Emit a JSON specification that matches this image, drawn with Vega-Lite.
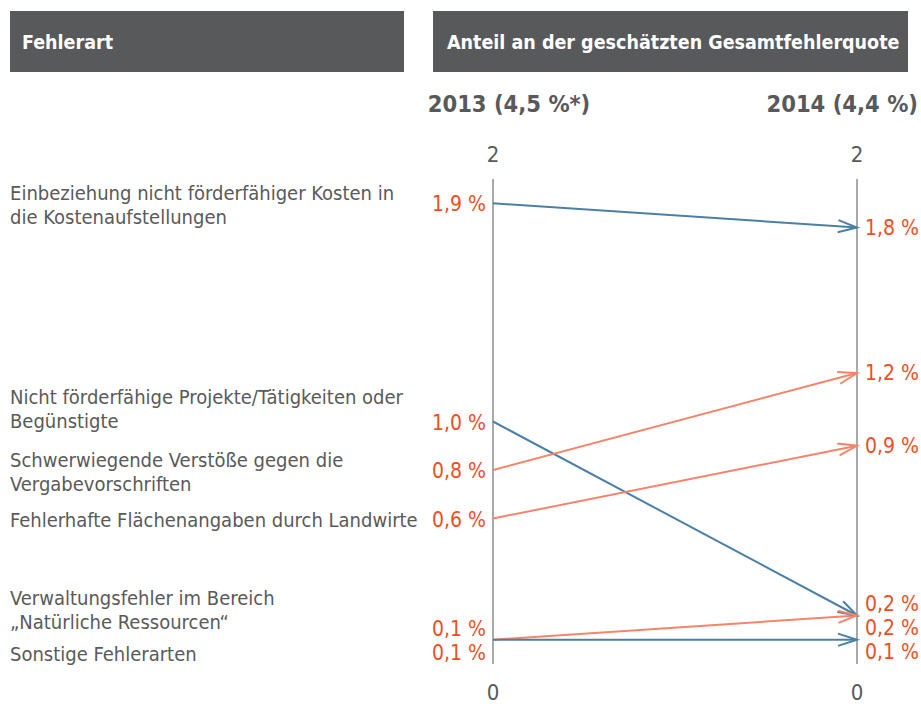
{
  "$schema": "https://vega.github.io/schema/vega-lite/v6.json",
  "width": 921,
  "height": 704,
  "autosize": "none",
  "padding": 0,
  "background": "#ffffff",
  "config": {
    "view": {"stroke": null},
    "text": {"font": "DejaVu Sans Condensed, Liberation Sans Narrow, sans-serif"}
  },
  "datasets": {
    "fehler": [
      {"Fehlerart": "Einbeziehung nicht förderfähiger Kosten in\ndie Kostenaufstellungen", "Anteil2013": 1.9, "Anteil2014": 1.8},
      {"Fehlerart": "Nicht förderfähige Projekte/Tätigkeiten oder\nBegünstigte", "Anteil2013": 1.0, "Anteil2014": 0.2},
      {"Fehlerart": "Schwerwiegende Verstöße gegen die\nVergabevorschriften", "Anteil2013": 0.8, "Anteil2014": 1.2},
      {"Fehlerart": "Fehlerhafte Flächenangaben durch Landwirte", "Anteil2013": 0.6, "Anteil2014": 0.9},
      {"Fehlerart": "Verwaltungsfehler im Bereich\n„Natürliche Ressourcen“", "Anteil2013": 0.1, "Anteil2014": 0.2},
      {"Fehlerart": "Sonstige Fehlerarten", "Anteil2013": 0.1, "Anteil2014": 0.1}
    ],
    "jahre": [
      {"Jahr": 2013, "Titel": "2013 (4,5 %*)"},
      {"Jahr": 2014, "Titel": "2014 (4,4 %)"}
    ]
  },
  "layer": [
    {
      "data": {"name": "jahre"},
      "mark": {"type": "rule", "color": "#8c8c8c", "strokeWidth": 1.5},
      "encoding": {
        "x": {"field": "Jahr", "type": "quantitative", "axis": null, "scale": {"domain": [2013, 2014], "range": [493, 857], "zero": false, "nice": false}},
        "y": {"datum": 0, "type": "quantitative", "axis": null, "scale": {"domain": [0, 2], "range": [664, 179], "zero": false, "nice": false}},
        "y2": {"datum": 2}
      }
    },
    {
      "data": {"values": [{"Kopf": "Fehlerart"}]},
      "layer": [
        {
          "mark": {"type": "rect", "color": "#58595b"},
          "encoding": {
            "x": {"datum": 2011.6731, "type": "quantitative"},
            "x2": {"datum": 2012.7555},
            "y": {"datum": 2.6928, "type": "quantitative"},
            "y2": {"datum": 2.4412}
          }
        },
        {
          "mark": {"type": "text", "color": "#ffffff", "fontWeight": "bold", "fontSize": 19.5, "align": "left", "baseline": "alphabetic"},
          "encoding": {
            "x": {"datum": 2011.706, "type": "quantitative"},
            "y": {"datum": 2.536, "type": "quantitative"},
            "text": {"field": "Kopf"}
          }
        }
      ]
    },
    {
      "data": {"values": [{"Kopf": "Anteil an der geschätzten Gesamtfehlerquote"}]},
      "layer": [
        {
          "mark": {"type": "rect", "color": "#58595b"},
          "encoding": {
            "x": {"datum": 2012.8352, "type": "quantitative"},
            "x2": {"datum": 2014.1401},
            "y": {"datum": 2.6928, "type": "quantitative"},
            "y2": {"datum": 2.4412}
          }
        },
        {
          "mark": {"type": "text", "color": "#ffffff", "fontWeight": "bold", "fontSize": 19.5, "align": "left", "baseline": "alphabetic"},
          "encoding": {
            "x": {"datum": 2012.8736, "type": "quantitative"},
            "y": {"datum": 2.536, "type": "quantitative"},
            "text": {"field": "Kopf"}
          }
        }
      ]
    },
    {
      "data": {"name": "jahre"},
      "layer": [
        {
          "transform": [{"filter": "datum.Jahr == 2013"}],
          "mark": {"type": "text", "fontWeight": "bold", "fontSize": 23.5, "color": "#58595b", "align": "center", "baseline": "alphabetic", "dx": 16, "dy": -67},
          "encoding": {
            "x": {"field": "Jahr", "type": "quantitative"},
            "y": {"datum": 2, "type": "quantitative"},
            "text": {"field": "Titel"}
          }
        },
        {
          "transform": [{"filter": "datum.Jahr == 2014"}],
          "mark": {"type": "text", "fontWeight": "bold", "fontSize": 23.5, "color": "#58595b", "align": "right", "baseline": "alphabetic", "dx": 61, "dy": -67},
          "encoding": {
            "x": {"field": "Jahr", "type": "quantitative"},
            "y": {"datum": 2, "type": "quantitative"},
            "text": {"field": "Titel"}
          }
        },
        {
          "mark": {"type": "text", "fontSize": 22, "color": "#58595b", "align": "center", "baseline": "alphabetic", "dy": -17},
          "encoding": {
            "x": {"field": "Jahr", "type": "quantitative"},
            "y": {"datum": 2, "type": "quantitative"},
            "text": {"datum": 2}
          }
        },
        {
          "mark": {"type": "text", "fontSize": 22, "color": "#58595b", "align": "center", "baseline": "alphabetic", "dy": 36},
          "encoding": {
            "x": {"field": "Jahr", "type": "quantitative"},
            "y": {"datum": 0, "type": "quantitative"},
            "text": {"datum": 0}
          }
        }
      ]
    },
    {
      "data": {"name": "fehler"},
      "transform": [
        {"calculate": "datum.Anteil2014 > datum.Anteil2013 ? 'Anstieg' : 'Rückgang'", "as": "Entwicklung"},
        {"calculate": "atan((datum.Anteil2013 - datum.Anteil2014) * 242.5 / 364) * 180 / PI", "as": "Winkel"},
        {"calculate": "replace(format(datum.Anteil2013, '.1f'), '.', ',') + ' %'", "as": "Text2013"},
        {"calculate": "replace(format(datum.Anteil2014, '.1f'), '.', ',') + ' %'", "as": "Text2014"}
      ],
      "layer": [
        {
          "mark": {"type": "rule", "strokeWidth": 2},
          "encoding": {
            "x": {"datum": 2013, "type": "quantitative"},
            "x2": {"datum": 2014},
            "y": {"field": "Anteil2013", "type": "quantitative"},
            "y2": {"field": "Anteil2014"},
            "color": {"field": "Entwicklung", "type": "nominal", "legend": null, "scale": {"domain": ["Rückgang", "Anstieg"], "range": ["#4a80a6", "#f4856a"]}}
          }
        },
        {
          "mark": {"type": "point", "shape": "M-1,-0.32L0,0L-1,0.32", "filled": false, "size": 1444, "strokeWidth": 2, "opacity": 1},
          "encoding": {
            "x": {"datum": 2014, "type": "quantitative"},
            "y": {"field": "Anteil2014", "type": "quantitative"},
            "angle": {"field": "Winkel", "type": "quantitative", "scale": null},
            "color": {"field": "Entwicklung", "type": "nominal", "legend": null}
          }
        },
        {
          "transform": [{"filter": "indexof(datum.Fehlerart, 'Verwaltung') != 0 && indexof(datum.Fehlerart, 'Sonstige') != 0"}],
          "mark": {"type": "text", "fontSize": 21, "color": "#f04e23", "align": "right", "baseline": "alphabetic", "dx": -7, "dy": 8},
          "encoding": {
            "x": {"datum": 2013, "type": "quantitative"},
            "y": {"field": "Anteil2013", "type": "quantitative"},
            "text": {"field": "Text2013"}
          }
        },
        {
          "transform": [{"filter": "indexof(datum.Fehlerart, 'Verwaltung') == 0"}],
          "mark": {"type": "text", "fontSize": 21, "color": "#f04e23", "align": "right", "baseline": "alphabetic", "dx": -7, "dy": -4},
          "encoding": {
            "x": {"datum": 2013, "type": "quantitative"},
            "y": {"field": "Anteil2013", "type": "quantitative"},
            "text": {"field": "Text2013"}
          }
        },
        {
          "transform": [{"filter": "indexof(datum.Fehlerart, 'Sonstige') == 0"}],
          "mark": {"type": "text", "fontSize": 21, "color": "#f04e23", "align": "right", "baseline": "alphabetic", "dx": -7, "dy": 20},
          "encoding": {
            "x": {"datum": 2013, "type": "quantitative"},
            "y": {"field": "Anteil2013", "type": "quantitative"},
            "text": {"field": "Text2013"}
          }
        },
        {
          "transform": [{"filter": "datum.Anteil2014 > 0.5"}],
          "mark": {"type": "text", "fontSize": 21, "color": "#f04e23", "align": "left", "baseline": "alphabetic", "dx": 8, "dy": 7},
          "encoding": {
            "x": {"datum": 2014, "type": "quantitative"},
            "y": {"field": "Anteil2014", "type": "quantitative"},
            "text": {"field": "Text2014"}
          }
        },
        {
          "transform": [{"filter": "indexof(datum.Fehlerart, 'Nicht') == 0"}],
          "mark": {"type": "text", "fontSize": 21, "color": "#f04e23", "align": "left", "baseline": "alphabetic", "dx": 8, "dy": -5},
          "encoding": {
            "x": {"datum": 2014, "type": "quantitative"},
            "y": {"field": "Anteil2014", "type": "quantitative"},
            "text": {"field": "Text2014"}
          }
        },
        {
          "transform": [{"filter": "indexof(datum.Fehlerart, 'Verwaltung') == 0 || indexof(datum.Fehlerart, 'Sonstige') == 0"}],
          "mark": {"type": "text", "fontSize": 21, "color": "#f04e23", "align": "left", "baseline": "alphabetic", "dx": 8, "dy": 19},
          "encoding": {
            "x": {"datum": 2014, "type": "quantitative"},
            "y": {"field": "Anteil2014", "type": "quantitative"},
            "text": {"field": "Text2014"}
          }
        },
        {
          "transform": [{"filter": "indexof(datum.Fehlerart, 'Einbeziehung') == 0 || indexof(datum.Fehlerart, 'Schwerwiegende') == 0"}],
          "mark": {"type": "text", "fontSize": 20, "color": "#5a5a5a", "align": "left", "baseline": "alphabetic", "lineBreak": "\n", "lineHeight": 24, "dy": -3},
          "encoding": {
            "x": {"datum": 2011.6731, "type": "quantitative"},
            "y": {"field": "Anteil2013", "type": "quantitative"},
            "text": {"field": "Fehlerart"}
          }
        },
        {
          "transform": [{"filter": "indexof(datum.Fehlerart, 'Fehlerhafte') == 0"}],
          "mark": {"type": "text", "fontSize": 20, "color": "#5a5a5a", "align": "left", "baseline": "alphabetic", "lineBreak": "\n", "lineHeight": 24, "dy": 8},
          "encoding": {
            "x": {"datum": 2011.6731, "type": "quantitative"},
            "y": {"field": "Anteil2013", "type": "quantitative"},
            "text": {"field": "Fehlerart"}
          }
        },
        {
          "transform": [{"filter": "indexof(datum.Fehlerart, 'Nicht') == 0"}],
          "mark": {"type": "text", "fontSize": 20, "color": "#5a5a5a", "align": "left", "baseline": "alphabetic", "lineBreak": "\n", "lineHeight": 24, "dy": -17.5},
          "encoding": {
            "x": {"datum": 2011.6731, "type": "quantitative"},
            "y": {"field": "Anteil2013", "type": "quantitative"},
            "text": {"field": "Fehlerart"}
          }
        },
        {
          "transform": [{"filter": "indexof(datum.Fehlerart, 'Verwaltung') == 0"}],
          "mark": {"type": "text", "fontSize": 20, "color": "#5a5a5a", "align": "left", "baseline": "alphabetic", "lineBreak": "\n", "lineHeight": 24, "dy": -34.5},
          "encoding": {
            "x": {"datum": 2011.6731, "type": "quantitative"},
            "y": {"field": "Anteil2013", "type": "quantitative"},
            "text": {"field": "Fehlerart"}
          }
        },
        {
          "transform": [{"filter": "indexof(datum.Fehlerart, 'Sonstige') == 0"}],
          "mark": {"type": "text", "fontSize": 20, "color": "#5a5a5a", "align": "left", "baseline": "alphabetic", "lineBreak": "\n", "lineHeight": 24, "dy": 21.5},
          "encoding": {
            "x": {"datum": 2011.6731, "type": "quantitative"},
            "y": {"field": "Anteil2013", "type": "quantitative"},
            "text": {"field": "Fehlerart"}
          }
        }
      ]
    }
  ]
}
